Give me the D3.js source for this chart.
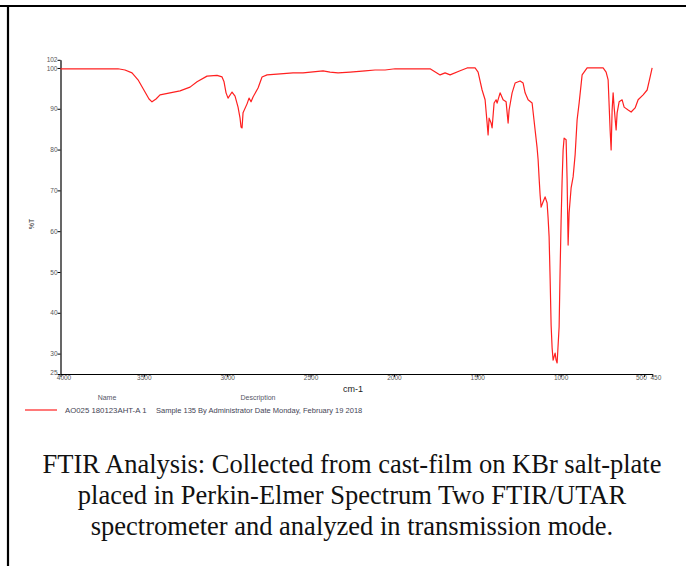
<!DOCTYPE html>
<html><head><meta charset="utf-8">
<script src="https://cdn.jsdelivr.net/npm/d3@7"></script>
<style>body{margin:0;background:#fff}svg{display:block}</style>
</head><body>
<svg id="c" width="686" height="566"></svg>
<script>
// Wavenumber (cm-1) and %T
const wavenumbers = [4000,3655,3613,3571,3535,3493,3469,3451,3427,3403,3343,3283,3223,3181,3121,3061,3031,3019,3007,2995,2971,2953,2935,2923,2917,2911,2905,2881,2869,2857,2845,2815,2791,2761,2701,2605,2545,2425,2383,2335,2263,2173,2113,2053,1993,1933,1843,1783,1723,1693,1663,1603,1561,1513,1495,1471,1453,1441,1435,1429,1417,1411,1399,1387,1381,1363,1345,1327,1315,1309,1291,1273,1243,1225,1213,1195,1171,1153,1141,1135,1129,1123,1117,1105,1093,1081,1075,1069,1063,1057,1051,1045,1033,1027,1021,1009,1003,997,991,985,979,967,961,955,949,937,925,913,901,889,871,841,745,727,715,703,697,691,685,679,667,661,649,631,619,595,577,553,535,505,481,463,451];
const transmittance = [99.8,99.8,99.5,98.8,97.1,94.1,92.4,91.7,92.4,93.4,93.9,94.4,95.3,96.6,98.0,98.2,97.8,96.6,93.9,92.6,94.1,93.1,90.4,87.7,85.5,85.3,89.0,91.2,92.6,91.7,92.9,95.1,97.8,98.3,98.5,98.8,98.8,99.3,99.0,98.8,99.0,99.3,99.5,99.5,99.8,99.8,99.8,99.8,98.3,98.8,98.3,99.3,100,100,99.0,94.6,92.2,86.5,83.6,87.7,86.5,85.3,91.4,92.2,91.4,93.9,92.2,91.7,86.5,89.7,93.9,96.3,96.8,96.3,93.9,92.2,91.4,84.8,80.4,77.5,73.0,68.9,65.9,67.2,68.4,66.9,63.2,58.6,48.5,37.0,31.4,28.4,30.1,28.4,27.7,36.5,50.5,62.7,72.5,79.9,82.8,82.4,72.5,56.6,64.5,70.6,73.3,78.7,87.3,91.4,98.3,100,100,99.0,97.1,84.8,79.9,89.7,93.9,90.4,84.8,89.0,91.7,92.2,90.4,89.7,89.2,90.2,92.2,93.4,94.6,97.8,100];
const xTicks = [4000,3500,3000,2500,2000,1500,1000,500,450];
const yTicks = [102,100,90,80,70,60,50,40,30,25];
const legendName = "AO025 180123AHT-A 1";
const legendDesc = "Sample 135 By Administrator Date Monday, February 19 2018";
const captionLines = ["FTIR Analysis: Collected from cast-film on KBr salt-plate",
  "placed in Perkin-Elmer Spectrum Two FTIR/UTAR",
  "spectrometer and analyzed in transmission mode."];

const svg = d3.select("#c");
// page border
svg.append("line").attr("x1",0).attr("x2",686).attr("y1",6).attr("y2",6).attr("stroke","#000").attr("stroke-width",2.2);
svg.append("line").attr("x1",8).attr("x2",8).attr("y1",5).attr("y2",566).attr("stroke","#000").attr("stroke-width",2.2);

const x = d3.scaleLinear().domain([4000,450]).range([60.5,652.3]);
const y = d3.scaleLinear().domain([25,102]).range([374,59.8]);

const xAxis = svg.append("g").attr("transform","translate(0,374)")
  .call(d3.axisBottom(x).tickValues(xTicks).tickSize(3).tickSizeOuter(0).tickFormat(d3.format("d")));
const yAxis = svg.append("g").attr("transform","translate(60.5,0)")
  .call(d3.axisLeft(y).tickValues(yTicks).tickSize(3).tickSizeOuter(0).tickFormat(d3.format("d")));
[xAxis,yAxis].forEach(g=>{
  g.select(".domain").attr("stroke","#000").attr("stroke-width",1.2);
  g.selectAll(".tick line").attr("stroke","#000");
  g.selectAll("text").attr("font-family","Liberation Sans, Arial, sans-serif").attr("font-size",6.5).attr("fill","#555");
});
xAxis.selectAll("text").attr("dy","0.45em").attr("y",3.5)
  .attr("dx",d=> d===4000 ? 3 : d===500 ? -3.1 : d===450 ? 3.1 : 0);
yAxis.selectAll("text").attr("x",-3).attr("dy",d=> d===25 ? "0.1em" : "0.32em");

// axis titles
svg.append("text").attr("x",343).attr("y",392).attr("font-family","Liberation Sans, Arial, sans-serif").attr("font-size",9).attr("fill","#222").text("cm-1");
svg.append("text").attr("transform","translate(34,224) rotate(-90)").attr("text-anchor","middle")
  .attr("font-family","Liberation Sans, Arial, sans-serif").attr("font-size",7).attr("fill","#333").text("%T");

// spectrum
const data = wavenumbers.map((w,i)=>[w,transmittance[i]]);
svg.append("path").datum(data)
  .attr("d", d3.line().x(d=>x(d[0])).y(d=>y(d[1])))
  .attr("fill","none").attr("stroke","#ff2020").attr("stroke-width",1.2).attr("stroke-linejoin","round");

// legend
const lf = "Liberation Sans, Arial, sans-serif";
svg.append("text").attr("x",107).attr("y",400).attr("text-anchor","middle").attr("font-family",lf).attr("font-size",7).attr("fill","#556").text("Name");
svg.append("text").attr("x",258).attr("y",400).attr("text-anchor","middle").attr("font-family",lf).attr("font-size",7).attr("fill","#556").text("Description");
svg.append("line").attr("x1",25).attr("x2",57).attr("y1",410).attr("y2",410).attr("stroke","#ff2020").attr("stroke-width",1.2);
svg.append("text").attr("x",65).attr("y",412.5).attr("font-family",lf).attr("font-size",7.8).attr("fill","#445").text(legendName);
svg.append("text").attr("x",156).attr("y",412.5).attr("font-family",lf).attr("font-size",7.5).attr("fill","#445").text(legendDesc);

// caption
svg.append("g").selectAll("text").data(captionLines).join("text")
  .attr("x",352).attr("y",(d,i)=>473+i*31).attr("text-anchor","middle")
  .attr("font-family","Liberation Serif, Times New Roman, serif").attr("font-size",26.5).attr("fill","#111").text(d=>d);
</script>
</body></html>
